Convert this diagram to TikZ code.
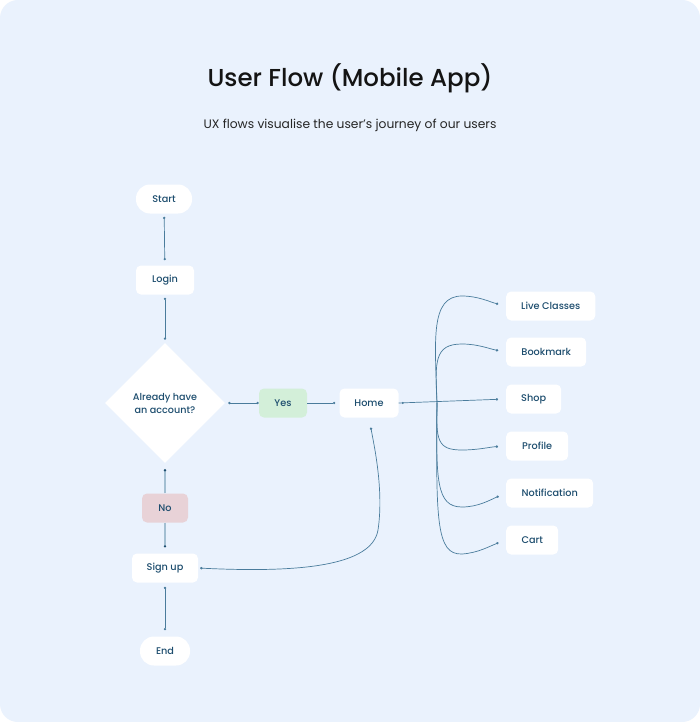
\documentclass[tikz,border=0pt]{standalone}
\usepackage{fontspec}
\setmainfont{Poppins}
\newfontfamily\medfont{Poppins Medium}
\usetikzlibrary{shapes.geometric,arrows.meta,calc}
\definecolor{bgc}{HTML}{EAF2FD}
\definecolor{navy}{HTML}{1D4D6E}
\definecolor{linec}{HTML}{4A7C9C}
\definecolor{nolinec}{HTML}{A3BFD2}
\definecolor{yesc}{HTML}{D3EFD9}
\definecolor{noc}{HTML}{E8D2D7}
\tikzset{
  box/.style={fill=white, rounded corners=5pt, minimum height=29pt, inner xsep=8pt, inner ysep=0pt, font=\medfont\fontsize{9.7}{12}\selectfont, text=navy},
  pill/.style={box, rounded corners=14pt},
  leaf/.style={box, anchor=west, minimum height=29pt, inner xsep=15pt},
  dec/.style={diamond, fill=white, minimum width=120pt, minimum height=120pt, inner sep=0pt, align=center, font=\medfont\fontsize{9.6}{13}\selectfont, text=navy},
  conn/.style={draw=linec, line width=0.7pt, {Circle[length=2.4pt]}-{Circle[length=2.4pt]}},
  fan/.style={draw=linec, line width=0.7pt, -{Circle[length=2.4pt]}},
}
\begin{document}
\begin{tikzpicture}[x=1pt,y=-1pt]
\useasboundingbox (0,0) rectangle (700,722);
\fill[white] (0,0) rectangle (700,722);
\fill[bgc, rounded corners=18pt] (0,0) rectangle (700,722);

\node[font=\medfont\fontsize{24.5}{29}\selectfont, text=black!92] (title) at (350,78) {User Flow (Mobile App)};
\node[font=\fontsize{12.3}{15}\selectfont, text=black!85] (sub) at (350,125) {UX flows visualise the user's journey of our users};

\node[pill, minimum width=56pt] (start) at (164,199) {Start};
\node[box, minimum width=58pt] (login) at (165,280) {Login};
\node[dec] (acc) at (165,403) {Already have\\an account?};
\node[box, fill=yesc, minimum width=48pt] (yes) at (283,403) {Yes};
\node[box, minimum width=59pt] (home) at (369,403) {Home};
\node[box, fill=noc, minimum width=46pt] (no) at (165,508) {No};
\node[box, minimum width=66pt] (signup) at (165,568) {Sign up};
\node[pill, minimum width=50pt] (end) at (165,651) {End};

\node[leaf, minimum width=88pt] (live) at (506,306) {Live Classes};
\node[leaf, minimum width=80pt] (book) at (506,352) {Bookmark};
\node[leaf, minimum width=55pt] (shop) at (506,399) {Shop};
\node[leaf, minimum width=62pt] (prof) at (506,446) {Profile};
\node[leaf, minimum width=87pt] (noti) at (506,493) {Notification};
\node[leaf, minimum width=52pt] (cart) at (506,540) {Cart};

\coordinate (hub) at (437,403);

\draw[conn, shorten <=3pt, shorten >=5pt] (start) -- (login);
\draw[conn, shorten <=3pt, shorten >=3pt] (login) -- (acc);
\draw[conn, shorten >=3pt] (yes.west) -- (acc.east);
\draw[fan, shorten >=4pt] (yes.east) -- (home.west);
\draw[draw=nolinec, line width=1.6pt, shorten >=7pt] (no.north) -- (acc.south);
\fill[navy] ($(acc.south)+(0,7)$) circle (1.3pt);
\draw[draw=nolinec, line width=1.6pt, shorten >=7pt] (no.south) -- (signup.north);
\fill[navy] ($(signup.north)+(0,-7)$) circle (1.3pt);
\draw[conn, shorten <=4pt, shorten >=6pt] (signup) -- (end);

\draw[conn, shorten <=2pt, shorten >=10pt] (signup.east) .. controls (300,573) and (372,566) .. (378,530) .. controls (384,490) and (374,445) .. (home.south);

\draw[fan, shorten >=8pt] (home.east) -- (shop.west);
\fill[linec] ($(home.east)+(4,0)$) circle (1.2pt);
\draw[fan, shorten >=8pt] (hub) .. controls (435,340) and (430,296) .. (462,296) .. controls (478,296) and (490,302) .. (live.west);
\draw[fan, shorten >=8pt] (hub) .. controls (435,362) and (434,344) .. (462,344) .. controls (478,344) and (490,349) .. (book.west);
\draw[fan, shorten >=8pt] (hub) .. controls (436,440) and (437,450) .. (462,450) .. controls (478,450) and (490,447) .. (prof.west);
\draw[fan, shorten >=8pt] (hub) .. controls (436,480) and (436,507) .. (462,507) .. controls (478,507) and (490,500) .. (noti.west);
\draw[fan, shorten >=8pt] (hub) .. controls (436,520) and (436,555) .. (462,554) .. controls (478,553) and (490,546) .. (cart.west);
\end{tikzpicture}
\end{document}
